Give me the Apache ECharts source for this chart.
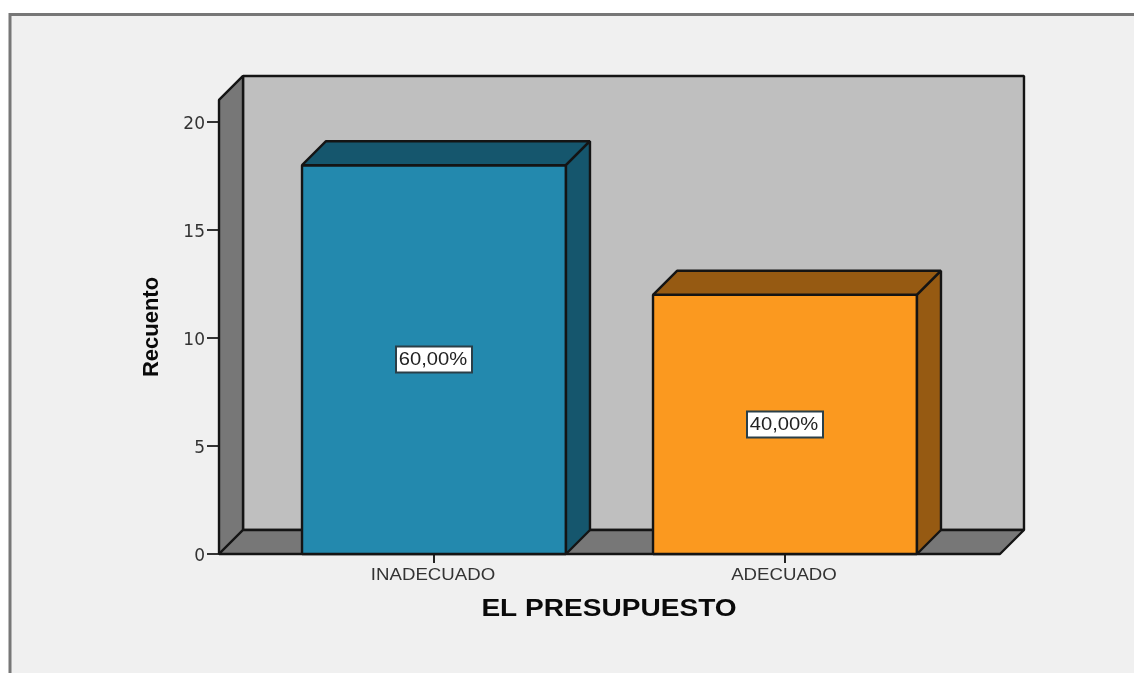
<!DOCTYPE html>
<html>
<head>
<meta charset="utf-8">
<style>html,body{margin:0;padding:0;background:#fff;}#c{width:1134px;height:673px;}</style>
<script src="https://cdn.jsdelivr.net/npm/echarts@6/dist/echarts.min.js"></script>
</head>
<body>
<div id="c"></div>
<script>
const categories = ['INADECUADO', 'ADECUADO'];
const counts = [18, 12];
const percentLabels = ['60,00%', '40,00%'];
const frontColors = ['#2389AE', '#FB991F'];
const shadeColors = ['#15566D', '#965A12'];
const yTicks = [0, 5, 10, 15, 20];
const wallTop = 21.02;
const xTitle = 'EL PRESUPUESTO';
const yTitle = 'Recuento';

const DEPTH = 24, EDGE = '#141414', FONT = '"Liberation Sans", Arial, sans-serif';

function poly(points, fill) {
  return { type: 'polygon', shape: { points }, style: { fill, stroke: EDGE, lineWidth: 2.4, lineJoin: 'bevel' } };
}

function renderWalls(params, api) {
  const band = api.size([1, 0])[0];
  const pad = band * 0.1125;
  const x0 = api.coord([0, 0])[0] - band / 2 - pad;
  const x1 = api.coord([categories.length - 1, 0])[0] + band / 2 + pad;
  const yb = api.coord([0, 0])[1];
  const yt = api.coord([0, wallTop])[1];
  const d = DEPTH;
  return { type: 'group', children: [
    poly([[x0 + d, yt - d + 0], [x1 + d, yt - d], [x1 + d, yb - d], [x0 + d, yb - d]], '#BFBFBF'),
    poly([[x0, yt], [x0 + d, yt - d], [x0 + d, yb - d], [x0, yb]], '#777777'),
    poly([[x0, yb], [x0 + d, yb - d], [x1 + d, yb - d], [x1, yb]], '#777777')
  ] };
}

function renderBar(params, api) {
  const i = api.value(0), v = api.value(1);
  const band = api.size([1, 0])[0];
  const w = band * 0.752;
  const c = api.coord([i, 0]);
  const t = api.coord([i, v]);
  const m = api.coord([i, v / 2]);
  const l = c[0] - w / 2, r = c[0] + w / 2, yb = c[1], yt = t[1], d = DEPTH;
  return { type: 'group', children: [
    poly([[l, yt], [r, yt], [r, yb], [l, yb]], frontColors[i]),
    poly([[l, yt], [l + d, yt - d], [r + d, yt - d], [r, yt]], shadeColors[i]),
    poly([[r, yt], [r + d, yt - d], [r + d, yb - d], [r, yb]], shadeColors[i]),
    { type: 'rect', shape: { x: c[0] - 38, y: m[1] - 13, width: 76, height: 26 },
      style: { fill: '#fff', stroke: '#2a3f48', lineWidth: 2 } },
    { type: 'text', x: c[0] - 1, y: m[1] + 0.5, scaleX: 1.12,
      style: { text: percentLabels[i], font: '18px ' + FONT, fill: '#222', align: 'center', verticalAlign: 'middle' } },
    { type: 'text', x: c[0] - 1, y: yb + 21, scaleX: 1.13,
      style: { text: categories[i], font: '16.5px ' + FONT, fill: '#333', align: 'center', verticalAlign: 'middle' } }
  ] };
}

const chart = echarts.init(document.getElementById('c'), null, { renderer: 'canvas' });
chart.setOption({
  animation: false,
  backgroundColor: '#fff',
  grid: { left: 258.5, width: 702, top: 122, height: 432, containLabel: false },
  xAxis: {
    type: 'category', data: categories,
    axisLine: { show: false },
    axisTick: { show: true, alignWithLabel: true, length: 9, lineStyle: { color: '#222', width: 2 } },
    axisLabel: { show: false }
  },
  yAxis: {
    type: 'value', min: 0, max: yTicks[yTicks.length - 1], interval: yTicks[1] - yTicks[0],
    offset: 39.5,
    axisLine: { show: false },
    axisTick: { show: true, length: 12, lineStyle: { color: '#333', width: 2 } },
    splitLine: { show: false },
    axisLabel: {
      margin: 14, formatter: '{t|{value}}',
      rich: { t: { fontFamily: '"DejaVu Sans"', fontSize: 17, color: '#333', padding: [6, 0, 0, 0] } }
    }
  },
  graphic: [
    { type: 'rect', z: -1, shape: { x: 10, y: 14.5, width: 1200, height: 760 },
      style: { fill: '#F0F0F0', stroke: '#777', lineWidth: 3 } },
    { type: 'text', z: 5, x: 609, y: 610, scaleX: 1.22,
      style: { text: xTitle, font: 'bold 23px ' + FONT, fill: '#0a0a0a', align: 'center', verticalAlign: 'middle' } },
    { type: 'text', z: 5, x: 152, y: 327, rotation: Math.PI / 2,
      style: { text: yTitle, font: 'bold 22px ' + FONT, fill: '#0a0a0a', align: 'center', verticalAlign: 'middle' } }
  ],
  series: [
    { type: 'custom', z: 1, renderItem: renderWalls, data: [[0, wallTop]], encode: { x: 0, y: 1 }, silent: true },
    { type: 'custom', z: 3, renderItem: renderBar, data: categories.map((c, i) => [i, counts[i]]), encode: { x: 0, y: 1 }, silent: true }
  ]
});
</script>
</body>
</html>
